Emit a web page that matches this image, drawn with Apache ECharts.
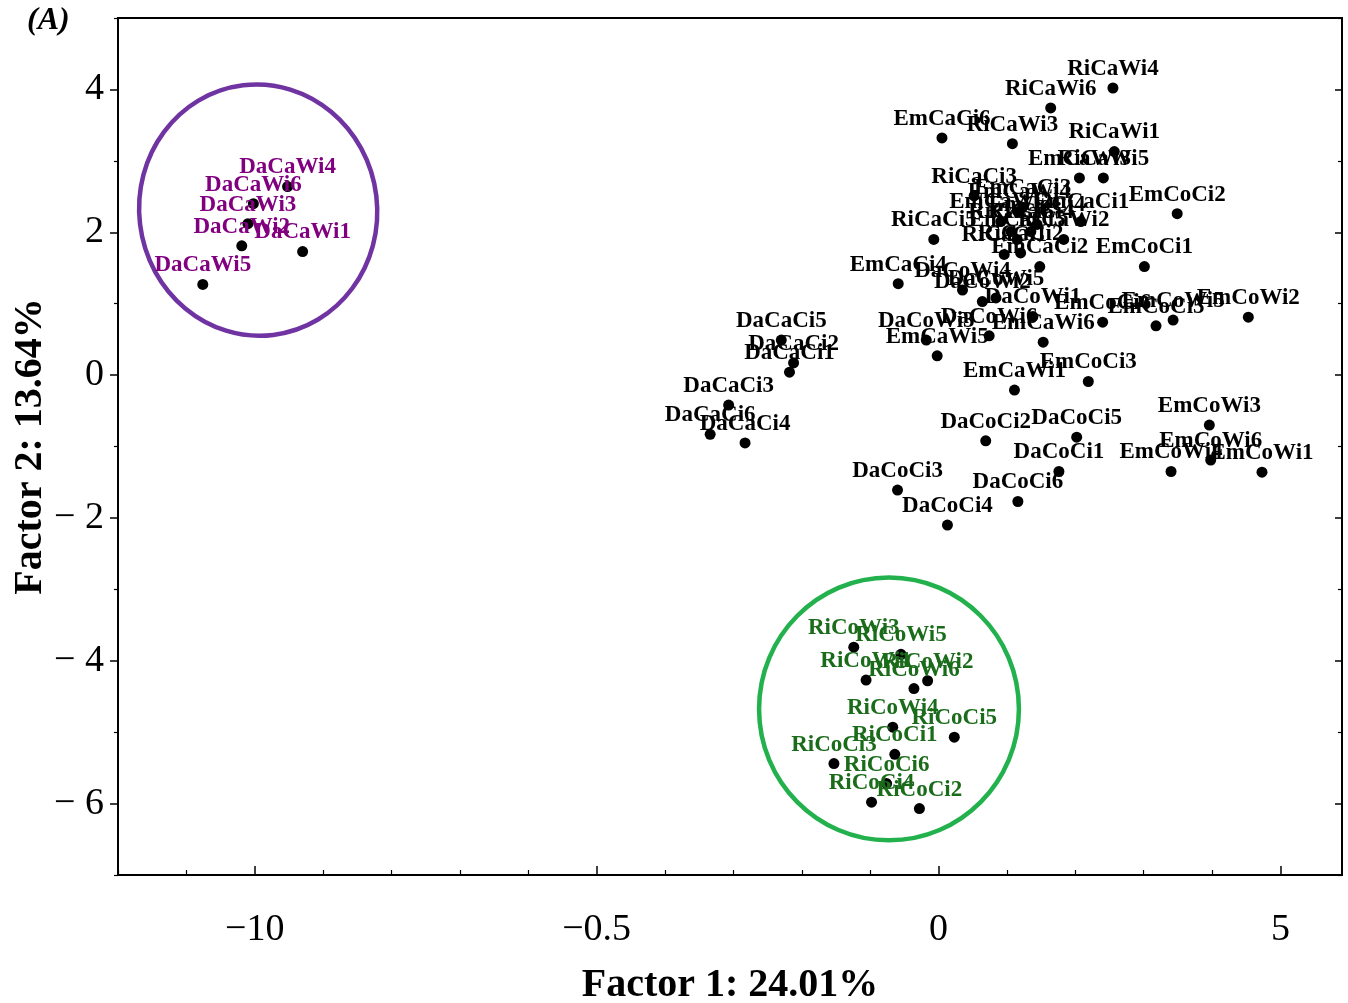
<!DOCTYPE html>
<html><head><meta charset="utf-8">
<script src="https://cdn.jsdelivr.net/npm/echarts@6/dist/echarts.min.js"></script>
<style>html,body{margin:0;padding:0;background:#fff}#c{width:1348px;height:1003px}</style>
</head><body><div id="c"></div>
<script>
// ---- tick labels ----
const xTickValues = [-10, -5, 0, 5];
const xTickLabels = ['\u221210', '\u22120.5', '0', '5'];
const xMinorValues = [-12, -11, -9, -8, -7, -6, -4, -3, -2, -1, 1, 2, 3, 4];
const yTickValues = [-6, -4, -2, 0, 2, 4];
const yTickLabels = ['\u2212 6', '\u2212 4', '\u2212 2', '0', '2', '4'];
const yMinorValues = [-7, -5, -3, -1, 1, 3, 5];

// ---- black-labelled samples ----
const blackNames = ['RiCaWi4','RiCaWi6','EmCaCi6','RiCaWi3','RiCaWi1','EmCaWi3','RiCaWi5','EmCoCi2','RiCaCi3','EmCaWi4',
  'EmCaWi2','EmCaCi3','EmCaCi1','RiCaWi2','EmCaCi5','EmCaCi2','RiCaCi1','RiCaCi2','RiCaCi4','RiCaCi6',
  'EmCoCi4','RiCaCi5','EmCoCi1','EmCaCi4','DaCoWi4','DaCoWi2','DaCoWi5','DaCoWi1','DaCoWi3','DaCoWi6',
  'EmCaWi5','EmCaWi6','EmCoCi6','EmCoCi5','EmCoWi5','EmCoWi2','EmCoCi3','EmCaWi1','EmCoWi3','EmCoWi6',
  'EmCoWi4','EmCoWi1','DaCoCi5','DaCoCi1','DaCoCi6','DaCoCi2','DaCoCi3','DaCoCi4','DaCaCi5','DaCaCi2',
  'DaCaCi1','DaCaCi3','DaCaCi6','DaCaCi4'];
const blackX = [2.55,1.64,0.05,1.08,2.57,2.06,2.41,3.49,0.52,1.18,
  0.91,1.23,2.08,1.83,1.15,1.48,0.96,1.20,1.35,1.06,
  1.44,-0.07,3.01,-0.59,0.35,0.64,0.84,1.38,-0.18,0.74,
  -0.02,1.53,2.40,3.18,3.43,4.53,2.19,1.11,3.96,3.98,
  3.40,4.73,2.02,1.76,1.16,0.69,-0.60,0.13,-2.30,-2.12,
  -2.18,-3.07,-3.34,-2.83];
const blackY = [4.02,3.74,3.32,3.24,3.13,2.76,2.76,2.26,2.51,2.29,
  2.15,2.35,2.15,1.90,1.90,1.52,1.69,1.71,2.01,2.01,
  2.11,1.90,1.52,1.28,1.19,1.03,1.08,0.82,0.49,0.55,
  0.27,0.46,0.74,0.69,0.77,0.81,-0.09,-0.21,-0.70,-1.19,
  -1.35,-1.36,-0.87,-1.35,-1.77,-0.92,-1.61,-2.10,0.49,0.17,
  0.04,-0.42,-0.83,-0.95];

// ---- purple group (DaCaWi) ----
const purpleNames = ['DaCaWi4','DaCaWi6','DaCaWi3','DaCaWi2','DaCaWi1','DaCaWi5'];
const purpleX = [-9.52,-10.02,-10.10,-10.19,-9.30,-10.76];
const purpleY = [2.64,2.40,2.12,1.81,1.73,1.27];

// ---- green group (RiCo) ----
const greenNames = ['RiCoWi3','RiCoWi5','RiCoWi1','RiCoWi2','RiCoWi6','RiCoWi4','RiCoCi5','RiCoCi1','RiCoCi3','RiCoCi6','RiCoCi4','RiCoCi2'];
const greenX = [-1.24,-0.55,-1.06,-0.16,-0.36,-0.67,0.23,-0.64,-1.53,-0.76,-0.98,-0.28];
const greenY = [-3.81,-3.91,-4.27,-4.28,-4.39,-4.93,-5.07,-5.31,-5.44,-5.72,-5.98,-6.07];

// ---- group ellipses: centre x, centre y, radius x, radius y (data units), rotation ----
const ellipseCX = [-9.95, -0.725];
const ellipseCY = [2.31, -4.675];
const ellipseRX = [1.74, 1.90];
const ellipseRY = [1.76, 1.84];
const ellipseRot = [0.12, 0];
const ellipseColors = ['#7034a2', '#22b14c'];

const FONT = "'Liberation Serif','Times New Roman',serif";

function pts(names, xs, ys) {
  return names.map((n, i) => ({ name: n, value: [xs[i], ys[i]] }));
}
function scatter(names, xs, ys, labelColor) {
  return {
    type: 'scatter', xAxisIndex: 0, yAxisIndex: 0,
    data: pts(names, xs, ys),
    symbol: 'circle', symbolSize: 11,
    itemStyle: { color: '#000', opacity: 1 },
    label: {
      show: true, position: 'top', distance: 2, formatter: '{b}',
      color: labelColor, fontFamily: FONT, fontWeight: 'bold', fontSize: 23
    },
    labelLayout: { hideOverlap: false },
    z: 3, silent: true
  };
}

const chart = echarts.init(document.getElementById('c'), null, { renderer: 'canvas' });
const option = {
  animation: false,
  backgroundColor: '#fff',
  grid: { left: 118, right: 6, top: 18, bottom: 128, outerBoundsMode: 'none', containLabel: false,
          show: true, borderColor: '#000', borderWidth: 2, backgroundColor: 'transparent' },
  xAxis: [
    {
      type: 'value', min: -12, max: 5.9, position: 'bottom',
      axisLine: { show: true, onZero: false, lineStyle: { color: '#000', width: 2 } },
      axisTick: { show: true, inside: true, length: 9, customValues: xTickValues, lineStyle: { color: '#000', width: 1.5 } },
      axisLabel: {
        show: true, customValues: xTickValues, margin: 36,
        formatter: v => { const i = xTickValues.indexOf(Math.round(v)); return i >= 0 ? xTickLabels[i] : ''; },
        color: '#000', fontFamily: FONT, fontSize: 38
      },
      splitLine: { show: false },
      name: 'Factor 1: 24.01%', nameLocation: 'middle', nameGap: 91, nameMoveOverlap: false,
      nameTextStyle: { color: '#000', fontFamily: FONT, fontWeight: 'bold', fontSize: 40 }
    },
    {
      type: 'value', min: -12, max: 5.9, position: 'bottom',
      axisLine: { show: false, onZero: false },
      axisTick: { show: true, inside: true, length: 5, customValues: xMinorValues, lineStyle: { color: '#000', width: 1.2 } },
      axisLabel: { show: false }, splitLine: { show: false }
    }
  ],
  yAxis: [
    {
      type: 'value', min: -7, max: 5, position: 'left',
      axisLine: { show: true, onZero: false, lineStyle: { color: '#000', width: 2 } },
      axisTick: { show: true, inside: false, length: 8, customValues: yTickValues, lineStyle: { color: '#000', width: 1.5 } },
      axisLabel: {
        show: true, customValues: yTickValues, margin: 14,
        formatter: v => { const i = yTickValues.indexOf(Math.round(v)); return i >= 0 ? yTickLabels[i] : ''; },
        color: '#000', fontFamily: FONT, fontSize: 38
      },
      splitLine: { show: false },
      name: 'Factor 2: 13.64%', nameLocation: 'middle', nameGap: 67, nameRotate: 90, nameMoveOverlap: false,
      nameTextStyle: { color: '#000', fontFamily: FONT, fontWeight: 'bold', fontSize: 40 }
    },
    {
      type: 'value', min: -7, max: 5, position: 'left',
      axisLine: { show: false, onZero: false },
      axisTick: { show: true, inside: false, length: 4, customValues: yMinorValues, lineStyle: { color: '#000', width: 1.2 } },
      axisLabel: { show: false }, splitLine: { show: false }
    },
    {
      type: 'value', min: -7, max: 5, position: 'right',
      axisLine: { show: false, onZero: false },
      axisTick: { show: true, inside: true, length: 7, customValues: yTickValues, lineStyle: { color: '#000', width: 1.5 } },
      axisLabel: { show: false }, splitLine: { show: false }
    },
    {
      type: 'value', min: -7, max: 5, position: 'right',
      axisLine: { show: false, onZero: false },
      axisTick: { show: true, inside: true, length: 4, customValues: yMinorValues, lineStyle: { color: '#000', width: 1.2 } },
      axisLabel: { show: false }, splitLine: { show: false }
    }
  ],
  graphic: [
    { type: 'text', left: 27, top: 5, style: { text: '(A)', fill: '#000', font: "italic bold 32px 'Liberation Serif', serif" } }
  ],
  series: [
    {
      type: 'custom', xAxisIndex: 0, yAxisIndex: 0, z: 2, silent: true,
      data: ellipseCX.map((cx, i) => [cx, ellipseCY[i], ellipseRX[i], ellipseRY[i], ellipseRot[i]]),
      renderItem: function (params, api) {
        const c = api.coord([api.value(0), api.value(1)]);
        const rx = api.size([api.value(2), 0])[0];
        const ry = api.size([0, api.value(3)])[1];
        return {
          type: 'ellipse', x: c[0], y: c[1], rotation: api.value(4),
          shape: { cx: 0, cy: 0, rx: rx, ry: ry },
          style: { fill: null, stroke: ellipseColors[params.dataIndex], lineWidth: 4.5 }
        };
      }
    },
    scatter(blackNames, blackX, blackY, '#000'),
    scatter(purpleNames, purpleX, purpleY, '#800080'),
    scatter(greenNames, greenX, greenY, '#1a6b1a')
  ]
};
chart.setOption(option);
</script>
</body></html>
